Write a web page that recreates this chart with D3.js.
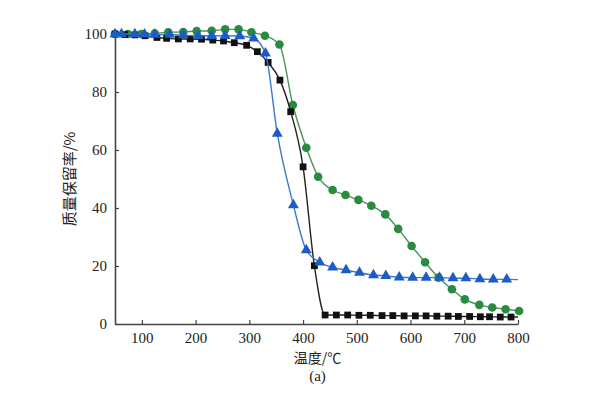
<!DOCTYPE html>
<html><head><meta charset="utf-8">
<script src="https://cdn.jsdelivr.net/npm/d3@7"></script>
<style>body{margin:0;background:#fff}svg{display:block}</style>
</head><body>
<svg id="c" width="616" height="396"></svg>
<script>
// ---- data ----
const xTicks = [100,200,300,400,500,600,700,800];
const yTicks = [0,20,40,60,80,100];
const xTitle = "温度/℃";
const yTitle = "质量保留率/%";
const caption = "(a)";

const blackT = [50,68,87,106,128,146,168,190,211,232,252,272,295,315,335,357,377,400,421,441,462,483,504,525,547,567,588,609,629,649,670,689,710,730,747,767,787];
const blackV = [100,99.8,99.7,99.4,98.8,98.5,98.3,98.3,98.2,97.9,97.6,97,96.1,93.9,90.2,84.1,73.2,54.2,20.1,3.1,3.1,3.1,3.0,3.0,2.9,2.9,2.8,2.8,2.8,2.7,2.7,2.6,2.6,2.5,2.5,2.4,2.4];
const blackTail = [800, 2.4];

const greenT = [50,74,99,124,149,177,202,230,255,280,304,329,356,381,406,428,455,479,503,527,553,577,602,627,652,677,701,728,752,777,802];
const greenV = [100,100,100,100.2,100.6,100.7,101,101.1,101.6,101.6,100.6,99.4,96.4,75.5,60.8,50.8,46.2,44.5,42.8,40.8,37.8,32.8,26.9,21.3,16,12,8.5,6.6,5.7,5.1,4.5];

const blueT = [50,62,87,105,124,152,177,205,230,255,282,308,330,352,382,406,431,455,480,505,531,554,579,604,629,654,679,703,729,754,779];
const blueV = [100,100,100,99.9,99.8,99.8,99.6,99.4,99.4,99.4,99.3,98.5,93.3,65.7,41,25.5,21.3,19.5,18.6,17.7,16.9,16.6,16.1,16,16,16,15.8,15.8,15.5,15.4,15.4];
const blueTail = [800, 15.3];

// ---- layout ----
const svg = d3.select("#c");
const L = 115, R = 518, T = 34, B = 324;
const x = d3.scaleLinear().domain([50,800]).range([L,R]);
const y = d3.scaleLinear().domain([0,100]).range([B,T]);
const serif = "Liberation Serif, Times New Roman, DejaVu Serif, serif";
const cjk = "Noto Sans CJK SC, Noto Sans CJK JP, sans-serif";

const gx = svg.append("g").attr("transform",`translate(0,${B})`)
  .call(d3.axisBottom(x).tickValues(xTicks).tickSizeInner(-4).tickSizeOuter(0).tickPadding(8));
const gy = svg.append("g").attr("transform",`translate(${L},0)`)
  .call(d3.axisLeft(y).tickValues(yTicks).tickSizeInner(-4).tickSizeOuter(0).tickPadding(8));
[gx,gy].forEach(g=>{
  g.attr("font-family",serif).attr("font-size",15);
  g.selectAll("path").attr("stroke","#444").attr("stroke-width",1.6);
  g.selectAll("line").attr("stroke","#444").attr("stroke-width",1.2);
  g.selectAll("text").attr("font-family",serif).attr("font-size",15).attr("fill","#222");
});

function series(Ts, Vs, tail, lineColor, markColor, shape){
  const pts = Ts.map((t,i)=>[t,Vs[i]]);
  const linePts = tail ? pts.concat([tail]) : pts;
  svg.append("path").datum(linePts)
    .attr("fill","none").attr("stroke",lineColor).attr("stroke-width",1.4)
    .attr("d", d3.line().x(d=>x(d[0])).y(d=>y(d[1])).curve(d3.curveMonotoneX));
  const sym = d3.symbol().type(shape).size(shape===d3.symbolTriangle?52:(shape===d3.symbolSquare?46:58));
  svg.append("g").selectAll("path").data(pts).join("path")
    .attr("transform",d=>`translate(${x(d[0])},${y(d[1])})`)
    .attr("d",sym).attr("fill",markColor);
}

series(greenT, greenV, null, "#4a955a", "#2a8a3e", d3.symbolCircle);
series(blackT, blackV, blackTail, "#222", "#111", d3.symbolSquare);
series(blueT, blueV, blueTail, "#3f78cf", "#1d5cc4", d3.symbolTriangle);

svg.append("text").attr("x",(L+R)/2+1).attr("y",363).attr("text-anchor","middle")
  .attr("font-family",cjk).attr("font-size",14).attr("fill","#222").text(xTitle);
svg.append("text").attr("x",(L+R)/2+1).attr("y",381).attr("text-anchor","middle")
  .attr("font-family",serif).attr("font-size",15).attr("fill","#222").text(caption);
svg.append("text").attr("transform",`translate(75,${(T+B)/2}) rotate(-90)`).attr("text-anchor","middle")
  .attr("font-family",cjk).attr("font-size",15).attr("fill","#222").text(yTitle);
</script>
</body></html>
